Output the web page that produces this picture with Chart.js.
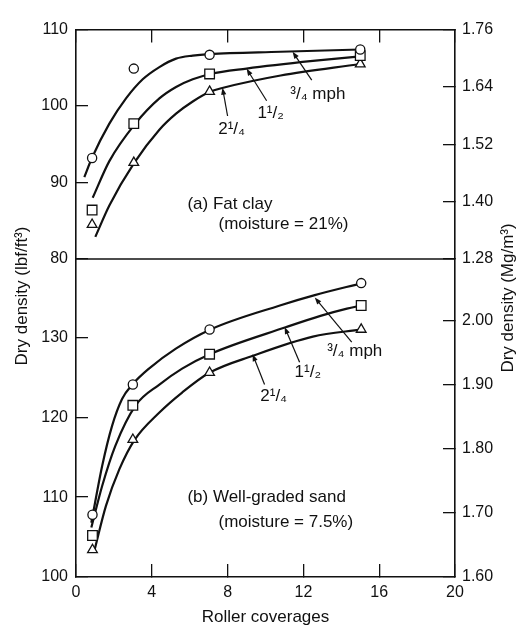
<!DOCTYPE html>
<html>
<head>
<meta charset="utf-8">
<script src="https://cdn.jsdelivr.net/npm/chart.js@4"></script>
<style>
html, body { margin: 0; padding: 0; background: #fff; }
#wrap { position: relative; width: 522px; height: 629px; }
#wrap canvas { position: absolute; left: 0; top: 0; }
</style>
</head>
<body>
<div id="wrap">
  <canvas id="clay" width="522" height="629"></canvas>
  <canvas id="sand" width="522" height="629"></canvas>
</div>
<script>
// ---- data ----
const xTicks = [0, 4, 8, 12, 16, 20];
const clayLeftTicks = [80, 90, 100, 110];
const clayRightTicks = [1.28, 1.40, 1.52, 1.64, 1.76];
const sandLeftTicks = [100, 110, 120, 130];
const sandRightTicks = [1.60, 1.70, 1.80, 1.90, 2.00];

// (a) fat clay, measured points
const clayCoverages = [0.85, 3.05, 7.05, 15];
const clayThreeQuarter = [93.2, 104.9, 106.7, 107.4];
const clayOneHalf = [86.4, 97.7, 104.2, 106.6];
const clayTwoQuarter = [84.5, 92.6, 101.9, 105.5];

// (a) fat clay, drawn curves [coverages, density]
const clayFit34 = [[0.44, 90.7], [0.84, 93.2], [1.76, 97.7], [2.64, 101.0], [3.52, 103.5], [4.4, 105.1], [5.28, 106.2], [6.16, 106.6], [7.04, 106.8], [10.8, 107.1], [15, 107.4]];
const clayFit12 = [[0.88, 88.0], [1.76, 92.8], [3.13, 97.7], [4.4, 101.0], [5.28, 102.5], [6.16, 103.5], [7.1, 104.2], [9.0, 104.9], [12.5, 105.9], [15, 106.5]];
const clayFit24 = [[1.02, 82.9], [1.76, 87.0], [3.08, 92.6], [4.4, 96.9], [5.28, 99.0], [6.16, 100.6], [7.1, 101.9], [7.77, 102.4], [10.8, 104.0], [15, 105.5]];

// (b) well-graded sand, measured points
const sandCoverages = [0.87, 3.0, 7.05, 15.05];
const sandThreeQuarter = [107.8, 124.1, 131.0, 136.8];
const sandOneHalf = [105.2, 121.5, 127.9, 134.0];
const sandTwoQuarter = [103.4, 117.2, 125.6, 131.0];

// (b) well-graded sand, drawn curves
const sandFit34 = [[0.81, 106.8], [1.38, 113.9], [1.9, 118.9], [2.43, 122.3], [2.97, 124.1], [3.85, 126.1], [5.27, 128.6], [7.1, 131.0], [10.76, 134.0], [12.6, 135.3], [15.1, 136.8]];
const sandFit12 = [[0.81, 106.2], [1.38, 111.4], [2.07, 116.4], [3.15, 121.5], [4.4, 124.1], [5.6, 126.1], [7.06, 127.9], [11.1, 131.3], [12.9, 132.7], [14.3, 133.6], [15.06, 134.0]];
const sandFit24 = [[0.95, 103.1], [1.58, 108.9], [2.29, 113.5], [3.1, 117.2], [4.4, 120.6], [5.6, 123.1], [7.06, 125.6], [9.33, 127.7], [12.5, 130.1], [15.06, 131.0]];

// ---- styling ----
const ink = '#111';
const family = '"Liberation Sans", Arial, Helvetica, sans-serif';
const tickFont = { family: family, size: 16 };

// labels and arrows placed in data units of each panel
const clayNotes = [
  { x: 12.76, y: 101.6, text: '\u00b3/\u2084 mph' },
  { x: 10.27, y: 99.1, text: '1\u00b9/\u2082' },
  { x: 8.21, y: 97.0, text: '2\u00b9/\u2084' },
  { x: 5.88, y: 87.1, text: '(a) Fat clay', align: 'left' },
  { x: 7.52, y: 84.5, text: '(moisture = 21%)', align: 'left' }
];
const clayArrows = [
  [12.44, 103.4, 11.43, 107.1],
  [10.06, 100.7, 9.0, 104.9],
  [8.0, 98.7, 7.73, 102.4]
];
const sandNotes = [
  { x: 14.71, y: 128.2, text: '\u00b3/\u2084 mph' },
  { x: 12.23, y: 125.6, text: '1\u00b9/\u2082' },
  { x: 10.43, y: 122.6, text: '2\u00b9/\u2084' },
  { x: 5.88, y: 110.0, text: '(b) Well-graded sand', align: 'left' },
  { x: 7.52, y: 106.9, text: '(moisture = 7.5%)', align: 'left' }
];
const sandArrows = [
  [14.55, 129.4, 12.6, 135.0],
  [11.8, 126.9, 11.01, 131.3],
  [9.95, 124.1, 9.32, 127.9]
];

function pts(xs, ys) { return xs.map((x, i) => ({ x: x, y: ys[i] })); }
function curve(pairs) { return pairs.map(p => ({ x: p[0], y: p[1] })); }

function markerSet(data, style, r) {
  return {
    data: data, showLine: false, pointStyle: style, pointRadius: r,
    pointBackgroundColor: '#fff', pointBorderColor: ink, pointBorderWidth: 1.3, order: 1
  };
}
function curveSet(data) {
  return {
    data: data, showLine: true, borderColor: ink, borderWidth: 2.2,
    cubicInterpolationMode: 'monotone', pointRadius: 0, order: 2
  };
}

function yAxis(pos, min, max, ticks, decimals) {
  return {
    type: 'linear', position: pos, min: min, max: max,
    afterBuildTicks: s => { s.ticks = ticks.map(v => ({ value: v })); },
    afterFit: s => { s.width = pos === 'left' ? 76 : 67; },
    grid: { drawOnChartArea: false, tickLength: -12, color: ink, lineWidth: 1.3 },
    border: { color: ink, width: 1.6 },
    ticks: {
      padding: pos === 'left' ? 20 : 19, color: ink, font: tickFont,
      callback: v => v.toFixed(decimals)
    }
  };
}

function xAxis(pos, showLabels) {
  const ax = {
    type: 'linear', position: pos, min: 0, max: 20,
    afterBuildTicks: s => { s.ticks = xTicks.map(v => ({ value: v })); },
    afterFit: s => { s.height = showLabels ? 52 : 0; },
    grid: { drawOnChartArea: false, tickLength: -13, color: ink, lineWidth: 1.3 },
    border: { color: ink, width: 1.6 },
    ticks: { display: showLabels, padding: 19, color: ink, font: tickFont }
  };
  if (showLabels) {
    ax.title = {
      display: true, text: 'Roller coverages', color: ink,
      font: { family: family, size: 17 }, padding: { top: 0, bottom: 1 }
    };
  }
  return ax;
}

function drawArrow(ctx, x1, y1, x2, y2) {
  const a = Math.atan2(y2 - y1, x2 - x1);
  ctx.beginPath();
  ctx.moveTo(x1, y1);
  ctx.lineTo(x2 - 4 * Math.cos(a), y2 - 4 * Math.sin(a));
  ctx.stroke();
  ctx.beginPath();
  ctx.moveTo(x2, y2);
  ctx.lineTo(x2 - 7 * Math.cos(a) + 2.6 * Math.sin(a), y2 - 7 * Math.sin(a) - 2.6 * Math.cos(a));
  ctx.lineTo(x2 - 7 * Math.cos(a) - 2.6 * Math.sin(a), y2 - 7 * Math.sin(a) + 2.6 * Math.cos(a));
  ctx.closePath();
  ctx.fill();
}

function notesPlugin(notes, arrows) {
  return {
    id: 'notes',
    afterDatasetsDraw(chart) {
      const { ctx, scales: { x, y } } = chart;
      ctx.save();
      ctx.fillStyle = ink;
      ctx.strokeStyle = ink;
      ctx.lineWidth = 1.2;
      arrows.forEach(a => {
        drawArrow(ctx, x.getPixelForValue(a[0]), y.getPixelForValue(a[1]),
          x.getPixelForValue(a[2]), y.getPixelForValue(a[3]));
      });
      ctx.font = '17px ' + family;
      ctx.textBaseline = 'middle';
      notes.forEach(n => {
        ctx.textAlign = n.align || 'center';
        ctx.fillText(n.text, x.getPixelForValue(n.x), y.getPixelForValue(n.y));
      });
      ctx.restore();
    }
  };
}

const boundaryPlugin = {
  id: 'boundary',
  afterDraw(chart) {
    const { ctx, chartArea } = chart;
    ctx.save();
    ctx.strokeStyle = ink;
    ctx.lineWidth = 1.6;
    ctx.beginPath();
    ctx.moveTo(chartArea.left, chartArea.bottom);
    ctx.lineTo(chartArea.right, chartArea.bottom);
    ctx.stroke();
    ctx.restore();
  }
};

const sideTitles = {
  id: 'sideTitles',
  afterDraw(chart) {
    const ctx = chart.ctx;
    ctx.save();
    ctx.fillStyle = ink;
    ctx.font = '17px ' + family;
    ctx.textAlign = 'center';
    ctx.textBaseline = 'middle';
    [[22, 296, 'Dry density (lbf/ft\u00b3)'], [508, 298, 'Dry density (Mg/m\u00b3)']].forEach(t => {
      ctx.save();
      ctx.translate(t[0], t[1]);
      ctx.rotate(-Math.PI / 2);
      ctx.fillText(t[2], 0, 0);
      ctx.restore();
    });
    ctx.restore();
  }
};

const common = {
  responsive: false,
  animation: false,
  events: [],
  plugins: { legend: { display: false }, tooltip: { enabled: false } }
};

new Chart(document.getElementById('clay'), {
  type: 'scatter',
  data: {
    datasets: [
      markerSet(pts(clayCoverages, clayThreeQuarter), 'circle', 4.6),
      markerSet(pts(clayCoverages, clayOneHalf), 'rect', 6.8),
      markerSet(pts(clayCoverages, clayTwoQuarter), 'triangle', 5.6),
      curveSet(curve(clayFit34)),
      curveSet(curve(clayFit12)),
      curveSet(curve(clayFit24))
    ]
  },
  options: Object.assign({}, common, {
    layout: { padding: { left: 0, right: 0, top: 17, bottom: 370 } },
    scales: {
      x: xAxis('top', false),
      y: yAxis('left', 80, 110, clayLeftTicks, 0),
      y2: yAxis('right', 1.28, 1.76, clayRightTicks, 2)
    }
  }),
  plugins: [notesPlugin(clayNotes, clayArrows), boundaryPlugin]
});

new Chart(document.getElementById('sand'), {
  type: 'scatter',
  data: {
    datasets: [
      markerSet(pts(sandCoverages, sandThreeQuarter), 'circle', 4.6),
      markerSet(pts(sandCoverages, sandOneHalf), 'rect', 6.8),
      markerSet(pts(sandCoverages, sandTwoQuarter), 'triangle', 5.6),
      curveSet(curve(sandFit34)),
      curveSet(curve(sandFit12)),
      curveSet(curve(sandFit24))
    ]
  },
  options: Object.assign({}, common, {
    layout: { padding: { left: 0, right: 0, top: 259, bottom: 0 } },
    scales: {
      x: xAxis('bottom', true),
      y: yAxis('left', 100, 139.82, sandLeftTicks, 0),
      y2: yAxis('right', 1.60, 2.0967, sandRightTicks, 2)
    }
  }),
  plugins: [notesPlugin(sandNotes, sandArrows), sideTitles]
});
</script>
</body>
</html>
